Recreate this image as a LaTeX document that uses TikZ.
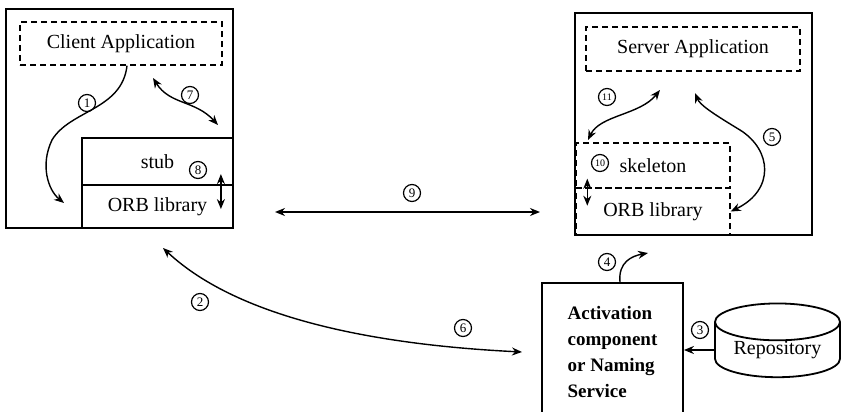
\documentclass[tikz,border=0pt]{standalone}
\usepackage{fontspec}
\setmainfont{Liberation Serif}
\usetikzlibrary{arrows.meta,shapes.geometric,positioning}

\begin{document}
\begin{tikzpicture}[x=0.5pt,y=-0.5pt,
		font=\fontsize{10}{12}\selectfont,
		box/.style={draw, line width=0.9pt, inner sep=0pt},
		dbox/.style={draw, line width=0.7pt, dash pattern=on 3pt off 2pt, inner sep=0pt},
		num/.style={circle, draw, line width=0.6pt, inner sep=0pt, minimum size=8.5pt, font=\fontsize{6.5}{7}\selectfont},
		smallnum/.style={num, font=\fontsize{5}{6}\selectfont},
		arr/.style={line width=0.7pt, -{Stealth[length=5pt,width=4pt]}},
		darr/.style={line width=0.7pt, {Stealth[length=5pt,width=4pt]}-{Stealth[length=5pt,width=4pt]}}
		]
		\useasboundingbox (0,0) rectangle (842,412);
		% client side
		\node[box, minimum width=113.5pt, minimum height=109.5pt] (client) at (119.5,118.5) {};
		\node[dbox, minimum width=101pt, minimum height=21.5pt] (capp) at (121,43.5) {Client Application};
		\node[box, minimum width=75.5pt, minimum height=23.5pt] (stub) at (157.5,161.5) {stub};
		\node[box, minimum width=75.5pt, minimum height=21.5pt] (orbc) at (157.5,206.5) {ORB library};
		% server side
		\node[box, minimum width=118.5pt, minimum height=111pt] (server) at (693.5,124) {};
		\node[dbox, minimum width=107pt, minimum height=22pt] (sapp) at (693,49) {Server Application};
		\node[dbox, minimum width=77pt, minimum height=22.5pt] (skel) at (653,165.5) {skeleton};
		\node[dbox, minimum width=77pt, minimum height=23.5pt] (orbs) at (653,211.5) {ORB library};
		% activation and repository
		\node[box, minimum width=70.5pt, minimum height=68.5pt, align=left,
			font=\fontsize{9.5}{13}\selectfont\bfseries] (act) at (612.5,351.5) {Activation\\component\\or Naming\\Service};
		\node[draw, line width=0.9pt, cylinder, shape border rotate=90, aspect=0.42, inner sep=0pt,
			minimum width=62.5pt, minimum height=29pt] (repo) at (777.5,350) {Repository};
		% free ends of the connectors
		\coordinate (e1) at (64,203);
		\coordinate (s7) at (153,78);
		\coordinate (e7) at (218,125);
		\coordinate (l9) at (275,212);
		\coordinate (r9) at (540,212);
		\coordinate (s11) at (588,140);
		\coordinate (e11) at (660,90);
		\coordinate (e5) at (695,93);
		\coordinate (e4) at (648,253);
		\coordinate (l2) at (163,248);
		\coordinate (r6) at (522,352);
		% connectors
		\draw[arr] ([xshift=3pt]capp.south) .. controls (122,110) and (70,110) .. (52,140)
			.. controls (40,165) and (48,190) .. (e1);
		\draw[darr] (s7) .. controls (170,105) and (195,100) .. (e7);
		\draw[darr] ([xshift=-6.5pt,yshift=5pt]orbc.north east) -- ([xshift=-6.5pt,yshift=-12.5pt]orbc.north east);
		\draw[darr] (l9) -- (r9);
		\draw[darr] ([xshift=6pt,yshift=5pt]skel.south west) -- ([xshift=6pt,yshift=-8.5pt]skel.south west);
		\draw[darr] (s11) .. controls (600,115) and (640,115) .. (e11);
		\draw[darr] (orbs.east) .. controls (775,190) and (772,150) .. (740,130)
			.. controls (712,113) and (700,105) .. (e5);
		\draw[arr] ([xshift=3.75pt]act.north) .. controls (618,262) and (632,256) .. (e4);
		\draw[arr] (repo.west) -- (repo.west -| act.east);
		\draw[darr] (l2) .. controls (240,320) and (380,345) .. (r6);
		% step numbers
		\node[num] (n1) at (87,103) {1};
		\node[num] (n2) at (200,302) {2};
		\node[num] (n3) at (700,330) {3};
		\node[num] (n4) at (607,262) {4};
		\node[num] (n5) at (772,137) {5};
		\node[num] (n6) at (463,328) {6};
		\node[num] (n7) at (190,95) {7};
		\node[num] (n8) at (198,170) {8};
		\node[num] (n9) at (412,193) {9};
		\node[smallnum] (n10) at (600,163) {10};
		\node[smallnum] (n11) at (607,97) {11};
\end{tikzpicture}
\end{document}
